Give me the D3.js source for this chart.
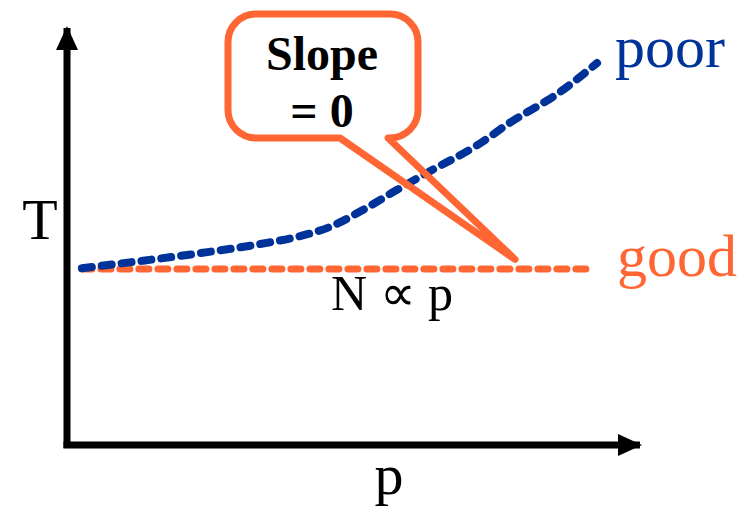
<!DOCTYPE html>
<html>
<head>
<meta charset="utf-8">
<script src="https://cdn.jsdelivr.net/npm/d3@7"></script>
<style>
  body { margin: 0; background: #fff; }
  svg text { font-family: "Liberation Serif", "Times New Roman", serif; }
</style>
</head>
<body>
<svg class="chart_svg" width="756" height="512"></svg>
<script>
// values (p on x, T on y, both 0..10)
const poorP = [0.26, 1.27, 2.32, 3.37, 4.07, 4.59, 5.17, 5.76, 6.34, 7.16, 7.73, 8.60, 9.25]
const poorT = [4.24, 4.41, 4.60, 4.82, 5.01, 5.23, 5.64, 6.12, 6.57, 7.19, 7.73, 8.46, 9.16]
const goodP = [0.26, 9.14]
const goodT = [4.22, 4.22]
const seriesNames = ["poor", "good"]
const calloutLines = ["Slope", "= 0"]
const calloutTip = {p: 7.82, T: 4.45}

const blue = "#003399"
const orange = "#ff6633"

const svg = d3.select(".chart_svg")

const x = d3.scaleLinear().domain([0, 10]).range([67, 640])
const y = d3.scaleLinear().domain([0, 10]).range([445, 28])

// axes: two thick arrows, no ticks
const defs = svg.append("defs")
defs.append("marker")
    .attr("id", "arrow")
    .attr("viewBox", "0 0 24 22")
    .attr("refX", 22).attr("refY", 11)
    .attr("markerUnits", "userSpaceOnUse")
    .attr("markerWidth", 24).attr("markerHeight", 22)
    .attr("orient", "auto")
    .append("path")
    .attr("d", "M0,0 L24,11 L0,22 Z")
    .attr("fill", "#000")

svg.append("path")
    .attr("d", `M${x(0)},${y(0) + 3} L${x(0)},${y(10)}`)
    .attr("stroke", "#000").attr("stroke-width", 7)
    .attr("fill", "none")
    .attr("marker-end", "url(#arrow)")

svg.append("path")
    .attr("d", `M${x(0) - 3.5},${y(0)} L${x(10)},${y(0)}`)
    .attr("stroke", "#000").attr("stroke-width", 7)
    .attr("fill", "none")
    .attr("marker-end", "url(#arrow)")

svg.append("text")
    .attr("x", 40).attr("y", 239)
    .attr("text-anchor", "middle")
    .attr("font-size", "58px")
    .text("T")

svg.append("text")
    .attr("x", 389).attr("y", 494)
    .attr("text-anchor", "middle")
    .attr("font-size", "58px")
    .text("p")

// lines
const line = d3.line()
    .x(d => x(d[0]))
    .y(d => y(d[1]))
    .curve(d3.curveMonotoneX)

const goodData = goodP.map((p, i) => [p, goodT[i]])
const poorData = poorP.map((p, i) => [p, poorT[i]])

svg.append("path")
    .datum(goodData)
    .attr("d", line)
    .attr("fill", "none")
    .attr("stroke", orange)
    .attr("stroke-width", 7)
    .attr("stroke-linecap", "round")
    .attr("stroke-dasharray", "10,9")

svg.append("path")
    .datum(poorData)
    .attr("d", line)
    .attr("fill", "none")
    .attr("stroke", blue)
    .attr("stroke-width", 8)
    .attr("stroke-linecap", "round")
    .attr("stroke-dasharray", "10,10")

// series labels at the line ends
svg.append("text")
    .attr("x", 615).attr("y", 67)
    .attr("font-size", "60px")
    .attr("fill", blue)
    .text(seriesNames[0])

svg.append("text")
    .attr("x", 617).attr("y", 276)
    .attr("font-size", "60px")
    .attr("fill", orange)
    .text(seriesNames[1])

svg.append("text")
    .attr("x", 392).attr("y", 310)
    .attr("text-anchor", "middle")
    .attr("font-size", "50px")
    .text("N \u221d p")

// callout bubble
const bx0 = 228, by0 = 14, bx1 = 418, by1 = 138, r = 28
const tipX = x(calloutTip.p), tipY = y(calloutTip.T)
const bubble = d3.path()
bubble.moveTo(bx0 + r, by0)
bubble.lineTo(bx1 - r, by0)
bubble.arcTo(bx1, by0, bx1, by0 + r, r)
bubble.lineTo(bx1, by1 - r)
bubble.arcTo(bx1, by1, bx1 - r, by1, r)
bubble.lineTo(388, by1)
bubble.lineTo(tipX, tipY)
bubble.lineTo(340, by1)
bubble.lineTo(bx0 + r, by1)
bubble.arcTo(bx0, by1, bx0, by1 - r, r)
bubble.lineTo(bx0, by0 + r)
bubble.arcTo(bx0, by0, bx0 + r, by0, r)
bubble.closePath()

svg.append("path")
    .attr("d", bubble.toString())
    .attr("fill", "none")
    .attr("stroke", orange)
    .attr("stroke-width", 7)
    .attr("stroke-linejoin", "round")

svg.selectAll(".callout-text")
    .data(calloutLines)
    .enter()
    .append("text")
    .attr("class", "callout-text")
    .attr("x", 322)
    .attr("y", (d, i) => 70 + i * 57)
    .attr("text-anchor", "middle")
    .attr("font-size", "48px")
    .attr("font-weight", "bold")
    .text(d => d)
</script>
</body>
</html>
